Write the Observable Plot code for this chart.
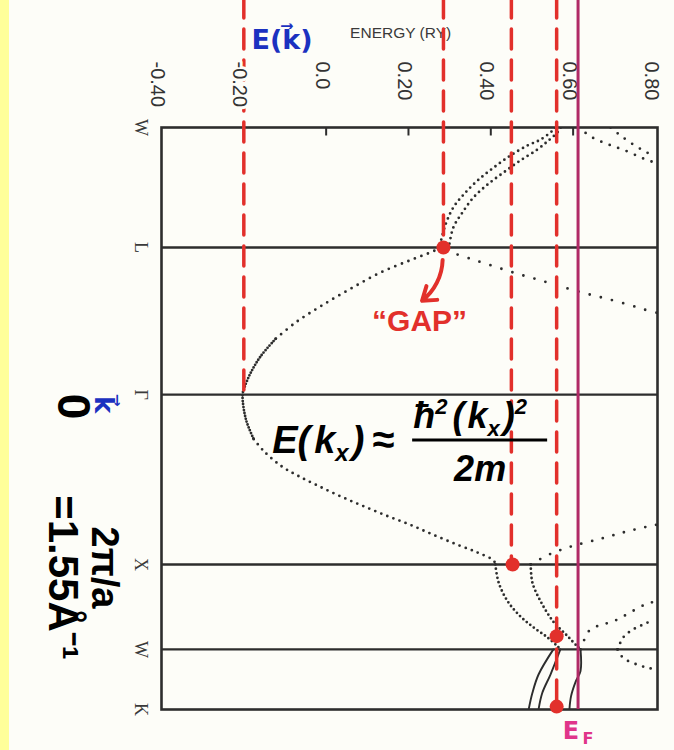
<!DOCTYPE html>
<html>
<head>
<meta charset="utf-8">
<script src="https://cdn.jsdelivr.net/npm/d3@7"></script>
<script src="https://cdn.jsdelivr.net/npm/@observablehq/plot@0.6"></script>
<style>
  html, body { margin: 0; padding: 0; }
  body {
    width: 674px; height: 750px; overflow: hidden;
    background: linear-gradient(to right, #ffff9a 0, #ffff9a 9px, #fdfdf8 9px);
  }
  #chart { position: absolute; left: 0; top: 0; }
</style>
</head>
<body>
<div id="chart"></div>
<script>
// Symmetry points along the k path W–L–Γ–X–W–K (distance in units of 2π/a)
const kPoints = [0, 0.707, 1.573, 2.573, 3.073, 3.427];
const kNames = ["W", "L", "Γ", "X", "W", "K"];

// Energy axis (Rydberg)
const energyTicks = [-0.4, -0.2, 0, 0.2, 0.4, 0.6, 0.8];
const energyTickLabels = ["-0.40", "-0.20", "0.0", "0.20", "0.40", "0.60", "0.80"];

// Band branches as [k, E] pairs
const bandWL1 = [[0, 0.556], [0.018, 0.550], [0.071, 0.521], [0.106, 0.489], [0.165, 0.448], [0.236, 0.407], [0.312, 0.368], [0.395, 0.334], [0.471, 0.309], [0.572, 0.290], [0.707, 0.275]];
const bandWL2 = [[0, 0.570], [0.029, 0.562], [0.077, 0.540], [0.130, 0.513], [0.194, 0.472], [0.265, 0.431], [0.336, 0.392], [0.412, 0.358], [0.501, 0.331], [0.589, 0.309], [0.707, 0.298]];
const bandWLright1 = [[0, 0.613], [0.059, 0.647], [0.100, 0.686], [0.136, 0.727], [0.183, 0.771], [0.212, 0.805]];
const bandWLright2 = [[0, 0.691], [0.047, 0.715], [0.100, 0.746], [0.136, 0.771], [0.165, 0.793]];
const bandLGupper = [[0.707, 0.298], [0.736, 0.309], [0.777, 0.356], [0.817, 0.407], [0.858, 0.460], [0.893, 0.511], [0.934, 0.567], [0.974, 0.625], [1.009, 0.683], [1.050, 0.744], [1.073, 0.775], [1.095, 0.810]];
const bandLGlower = [[0.707, 0.278], [0.731, 0.258], [0.781, 0.205], [0.854, 0.132], [0.950, 0.059], [1.052, -0.013], [1.148, -0.074], [1.245, -0.123]];
const bandNearGamma = [[1.245, -0.123], [1.347, -0.159], [1.443, -0.183], [1.528, -0.198], [1.573, -0.203], [1.718, -0.195], [1.835, -0.176]];
const bandGXlower = [[1.835, -0.176], [1.904, -0.152], [1.992, -0.110], [2.050, -0.069], [2.108, -0.021], [2.172, 0.035], [2.230, 0.091], [2.288, 0.149], [2.340, 0.205], [2.399, 0.261], [2.457, 0.319], [2.503, 0.368], [2.550, 0.407], [2.573, 0.411]];
const bandXupper = [[2.573, 0.497], [2.515, 0.541], [2.468, 0.594], [2.422, 0.666], [2.381, 0.727], [2.346, 0.788], [2.336, 0.810]];
const bandXW1 = [[2.573, 0.411], [2.679, 0.419], [2.790, 0.441], [2.879, 0.472], [2.944, 0.504], [3.003, 0.538], [3.055, 0.562], [3.073, 0.569]];
const bandXW2 = [[2.573, 0.497], [2.679, 0.501], [2.790, 0.521], [2.910, 0.552], [2.994, 0.586], [3.055, 0.610], [3.073, 0.618]];
const bandWK1 = [[3.073, 0.552], [3.221, 0.516], [3.330, 0.501], [3.427, 0.492]];
const bandWK2 = [[3.073, 0.569], [3.221, 0.545], [3.330, 0.525], [3.427, 0.516]];
const bandWK3 = [[3.073, 0.618], [3.200, 0.618], [3.264, 0.606], [3.348, 0.595], [3.427, 0.591]];
const bandWXright1 = [[3.073, 0.618], [2.955, 0.642], [2.926, 0.674], [2.897, 0.708], [2.855, 0.739], [2.808, 0.776], [2.785, 0.810]];
const bandWXright2 = [[3.073, 0.708], [3.002, 0.722], [2.955, 0.746], [2.926, 0.771], [2.902, 0.793]];
const bandWKright = [[3.073, 0.708], [3.124, 0.722], [3.163, 0.756], [3.182, 0.783], [3.195, 0.810]];

// Hand-drawn guides: energy levels and where each dashed line stops along k
const guideEnergies = [-0.20, 0.285, 0.45, 0.56];
const guideStops = [1.573, 0.707, 2.573, 3.427];
const fermiEnergy = 0.612;
const markerEnergies = [0.285, 0.453, 0.56, 0.56];
const markerK = [0.707, 2.573, 2.995, 3.41];

const rows = (pts) => pts.map(([k, e]) => ({k, e}));
const INK = "#2d2d2d";
const RED = "#e2302b";
const kTop = -0.76; // reaches the top edge of the page

const dotted = (pts, gap, extra = {}) => Plot.line(rows(pts), {
  x: "e", y: "k", curve: "catmull-rom", clip: true,
  stroke: INK, strokeWidth: 2.8, strokeLinecap: "round",
  strokeDasharray: `0,${gap}`, ...extra
});
const solid = (pts, extra = {}) => Plot.line(rows(pts), {
  x: "e", y: "k", curve: "catmull-rom", clip: true,
  stroke: INK, strokeWidth: 1.9, ...extra
});

const tickRows = energyTicks.map((e, i) => ({e, label: energyTickLabels[i]}));
const kRows = kPoints.map((k, i) => ({k, name: kNames[i]}));
const guideRows = guideEnergies.map((e, i) => ({e, stop: guideStops[i]}));
const markerRows = markerEnergies.map((e, i) => ({e, k: markerK[i]}));

const tickLabelStyle = {
  x: "e", text: "label", frameAnchor: "top", dx: -4, dy: -66, rotate: 90,
  textAnchor: "start", lineAnchor: "middle", fontSize: 20, fill: "#333"
};
const sideText = {frameAnchor: "left", rotate: 90, textAnchor: "middle", lineAnchor: "middle", fontWeight: "bold", fill: "#000"};

const chart = Plot.plot({
  width: 674,
  height: 750,
  marginLeft: 161,
  marginRight: 17,
  marginTop: 127,
  marginBottom: 41,
  style: {background: "transparent", fontFamily: "'Liberation Sans', Arial, sans-serif"},
  x: {domain: [-0.40, 0.805], axis: null},
  y: {domain: [0, 3.427], reverse: true, axis: null},
  marks: [
    // band structure
    dotted(bandWL1, 5.5),
    dotted(bandWL2, 5.5),
    dotted(bandWLright1, 9),
    dotted(bandWLright2, 9),
    dotted(bandLGupper, 11.5),
    dotted(bandLGlower, 7),
    dotted(bandNearGamma, 3),
    dotted(bandGXlower, 6.5),
    dotted(bandXupper, 11),
    dotted(bandXW1, 4.5),
    dotted(bandXW2, 4.5),
    solid(bandWK1),
    solid(bandWK2),
    solid(bandWK3),
    dotted(bandWXright1, 10),
    dotted(bandWXright2, 7),
    dotted(bandWKright, 8),

    // frame, symmetry-point rules and inward ticks
    Plot.ruleY(kPoints.slice(1, -1), {stroke: INK, strokeWidth: 2.4}),
    Plot.frame({stroke: INK, strokeWidth: 2.6}),
    Plot.ruleX(energyTicks.slice(1, -1), {y1: 0, y2: 0.05, stroke: INK, strokeWidth: 2}),

    // energy tick labels and k labels
    Plot.text(tickRows.filter(d => d.e !== -0.2), tickLabelStyle),
    Plot.text(kRows, {
      y: "k", text: "name", frameAnchor: "left", dx: -21, rotate: 90,
      textAnchor: "middle", lineAnchor: "middle",
      fontFamily: "'Liberation Serif', serif", fontSize: 18, fill: "#3a3a3a"
    }),
    Plot.text(["ENERGY (RY)"], {
      x: 0.181, frameAnchor: "top", dy: -94, lineAnchor: "middle", textAnchor: "middle",
      fontSize: 15.5, fill: "#3a3a3a"
    }),
    Plot.text(["E(k\u20D7)"], {
      x: -0.107, frameAnchor: "top", dy: -87, lineAnchor: "middle", textAnchor: "middle",
      fontSize: 27, fontWeight: "bold", fontFamily: "'DejaVu Sans', sans-serif", fill: "#1b31c0"
    }),

    // guides drawn over the bands
    Plot.ruleX(guideRows, {
      x: "e", y1: kTop, y2: "stop", stroke: RED, strokeWidth: 3.5,
      strokeDasharray: "20,11", strokeLinecap: "round"
    }),
    Plot.text(tickRows.filter(d => d.e === -0.2), {...tickLabelStyle, stroke: "#fdfdf8", strokeWidth: 6}),
    Plot.ruleX([fermiEnergy], {y1: kTop, y2: 3.427, stroke: "#b02a66", strokeWidth: 3}),
    Plot.dot(markerRows, {x: "e", y: "k", r: 7, fill: RED}),
    Plot.arrow([{x1: 0.283, y1: 0.78, x2: 0.233, y2: 1.02}], {
      x1: "x1", y1: "y1", x2: "x2", y2: "y2", bend: 25,
      stroke: RED, strokeWidth: 4, headLength: 14, headAngle: 70
    }),
    Plot.text(["\u201CGAP\u201D"], {
      x: 0.227, y: 1.143, fontSize: 30, fontWeight: "bold",
      fontFamily: "'Liberation Sans Narrow', 'Liberation Sans', sans-serif", fill: RED
    }),
    Plot.text(["E"], {
      x: fermiEnergy, frameAnchor: "bottom", dx: -7, dy: 22, lineAnchor: "middle", textAnchor: "middle",
      fontSize: 24, fontWeight: "bold", fontFamily: "'DejaVu Sans', sans-serif", fill: "#e0358a"
    }),
    Plot.text(["F"], {
      x: fermiEnergy, frameAnchor: "bottom", dx: 10, dy: 29, lineAnchor: "middle", textAnchor: "middle",
      fontSize: 16, fontWeight: "bold", fontFamily: "'DejaVu Sans', sans-serif", fill: "#e0358a"
    }),

    // wave-vector scale at the left, reading top to bottom
    Plot.text(["0"], {y: kPoints[2], dx: -89, dy: 12, fontSize: 46, ...sideText}),
    Plot.text(["k\u20D7"], {
      y: kPoints[2], dx: -58, dy: 10, ...sideText,
      fontSize: 26, fontFamily: "'DejaVu Sans', sans-serif", fill: "#1b31c0"
    }),
    Plot.text(["2π/a"], {y: kPoints[3], dx: -57, dy: 3, fontSize: 38, ...sideText}),
    Plot.text(["=1.55Å\u207B\u00B9"], {y: kPoints[3], dx: -99, dy: 13, fontSize: 42, ...sideText})
  ]
});

document.getElementById("chart").appendChild(chart);

// Free-electron dispersion formula, anchored in data coordinates
const sx = chart.scale("x"), sy = chart.scale("y");
const ax = sx.apply(-0.130), ay = sy.apply(1.92);
const f = d3.select(chart).append("g")
  .attr("text-anchor", "start")
  .attr("font-family", "'Liberation Sans', Arial, sans-serif")
  .attr("font-weight", "bold").attr("font-style", "italic").attr("fill", "#000");

const lhs = f.append("text").attr("x", ax).attr("y", ay).attr("font-size", 38);
lhs.append("tspan").text("E(");
lhs.append("tspan").attr("dx", 4).text("k");
lhs.append("tspan").attr("font-size", 24).attr("dy", 8).text("x");
lhs.append("tspan").attr("dy", -8).attr("dx", 3).text(")");
lhs.append("tspan").attr("dx", 8).attr("font-size", 40).text("≈");

const num = f.append("text").attr("x", ax + 141).attr("y", ay - 25).attr("font-size", 36);
num.append("tspan").text("ħ");
num.append("tspan").attr("font-size", 22).attr("dy", -14).text("2");
num.append("tspan").attr("dy", 14).attr("dx", 5).text("(");
num.append("tspan").attr("dx", 3).text("k");
num.append("tspan").attr("font-size", 22).attr("dy", 8).text("x");
num.append("tspan").attr("dy", -8).attr("dx", 3).text(")");
num.append("tspan").attr("font-size", 22).attr("dy", -14).text("2");

f.append("line")
  .attr("x1", ax + 140).attr("x2", ax + 275)
  .attr("y1", ay - 13).attr("y2", ay - 13)
  .attr("stroke", "#000").attr("stroke-width", 3);

f.append("text").attr("x", ax + 208).attr("y", ay + 28)
  .attr("font-size", 36).attr("text-anchor", "middle").text("2m");
</script>
</body>
</html>
